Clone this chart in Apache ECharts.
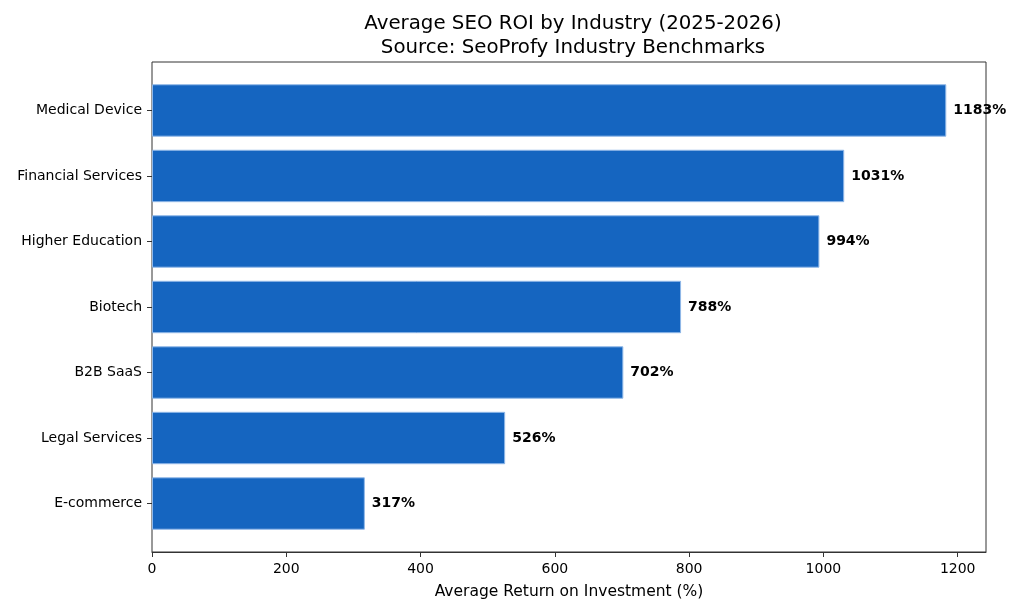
<!DOCTYPE html>
<html>
<head>
    <meta charset="utf-8">
    <title>Average SEO ROI by Industry</title>
    <script src="https://cdn.jsdelivr.net/npm/echarts@6/dist/echarts.min.js"></script>
    <style>
        html, body { margin: 0; padding: 0; background: #ffffff; }
        #chart { width: 1024px; height: 615px; }
    </style>
</head>
<body>
<div id="chart"></div>
<script>
    // data, bottom to top as drawn
    var industries = ['E-commerce', 'Legal Services', 'B2B SaaS', 'Biotech', 'Higher Education', 'Financial Services', 'Medical Device'];
    var roiValues = [317, 526, 702, 788, 994, 1031, 1183];
    var xTicks = [0, 200, 400, 600, 800, 1000, 1200];

    var font = 'DejaVu Sans';
    var xMax = 1183 * 1.05;

    // outer frame is 62..552, categories sit inside with matplotlib's 5% margin
    var frameTop = 62, frameBottom = 63, frameLeft = 152, frameRight = 38;
    var unit = 490 / 7.48;
    var inner = 0.24 * unit;

    var chart = echarts.init(document.getElementById('chart'));

    var option = {
        animation: false,
        backgroundColor: '#ffffff',
        title: {
            text: 'Average SEO ROI by Industry (2025-2026)\nSource: SeoProfy Industry Benchmarks',
            left: 568,
            top: 7,
            textAlign: 'center',
            textStyle: {
                fontFamily: font,
                fontSize: 19.8,
                fontWeight: 'normal',
                color: '#000',
                lineHeight: 24
            }
        },
        grid: [
            {
                left: frameLeft, right: frameRight, top: frameTop, bottom: frameBottom,
                show: true, borderColor: '#333', borderWidth: 1, backgroundColor: 'transparent'
            },
            {
                left: frameLeft, right: frameRight, top: frameTop + inner, bottom: frameBottom + inner
            }
        ],
        xAxis: [
            {
                gridIndex: 0,
                type: 'value',
                min: 0,
                max: xMax,
                interval: 200,
                name: 'Average Return on Investment (%)',
                nameLocation: 'middle',
                nameGap: 32,
                nameTextStyle: { fontFamily: font, fontSize: 15.5, color: '#000' },
                axisLine: { show: true, lineStyle: { color: '#333' } },
                axisTick: { show: true, length: 5, lineStyle: { color: '#333' } },
                axisLabel: {
                    fontFamily: font, fontSize: 14, color: '#000', margin: 10,
                    showMaxLabel: false,
                    formatter: function (v) { return xTicks.indexOf(v) >= 0 ? String(v) : ''; }
                },
                splitLine: { show: false }
            },
            {
                gridIndex: 1,
                type: 'value',
                min: 0,
                max: xMax,
                show: false
            }
        ],
        yAxis: [
            {
                gridIndex: 0,
                type: 'value',
                show: false
            },
            {
                gridIndex: 1,
                type: 'category',
                data: industries,
                axisLine: { show: false },
                axisTick: { show: true, alignWithLabel: true, length: 5, lineStyle: { color: '#333' } },
                axisLabel: { fontFamily: font, fontSize: 14, color: '#000', margin: 10 }
            }
        ],
        series: [
            {
                type: 'bar',
                xAxisIndex: 1,
                yAxisIndex: 1,
                data: roiValues,
                barWidth: '80%',
                itemStyle: {
                    color: '#1565C0',
                    borderColor: '#90B8E8',
                    borderWidth: 1
                },
                label: {
                    show: true,
                    position: 'right',
                    distance: 7,
                    formatter: '{c}%',
                    fontFamily: font,
                    fontSize: 14,
                    fontWeight: 'bold',
                    color: '#000'
                }
            }
        ]
    };

    chart.setOption(option);

    window.onresize = function () {
        chart.resize();
    };
</script>
</body>
</html>
